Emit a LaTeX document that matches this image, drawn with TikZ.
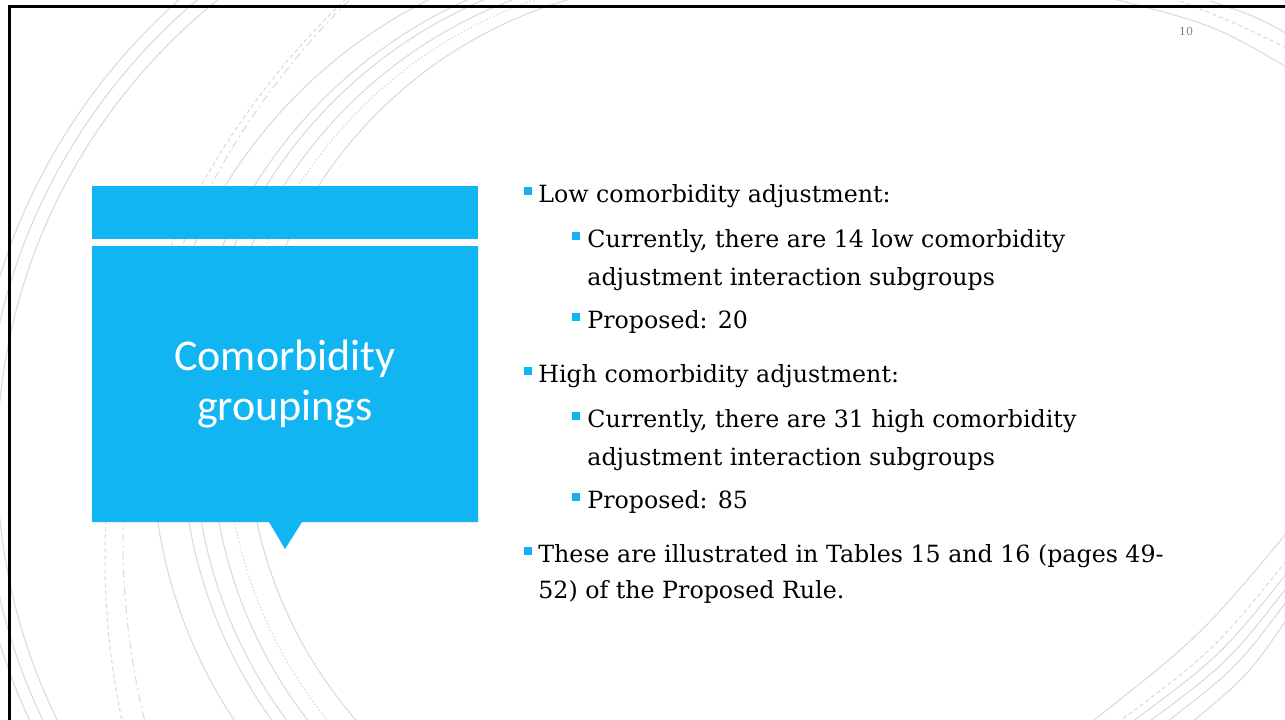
\documentclass[tikz,border=0pt]{standalone}
\usepackage{fontspec}
\setmainfont{DejaVu Serif}
\newfontfamily\titlefont{Carlito}
\definecolor{accent}{RGB}{17,181,241}
\definecolor{ringgray}{RGB}{217,217,217}
\tikzset{
  ring/.style={draw=ringgray, line width=0.5pt},
  dashring/.style={ring, dash pattern=on 2pt off 1.5pt},
  dotring/.style={ring, dash pattern=on 0.8pt off 1pt},
  dashdotring/.style={ring, dash pattern=on 4pt off 2pt on 1pt off 2pt},
  bul/.style={fill=accent, inner sep=0pt, minimum size=3.6pt},
  body/.style={anchor=base west, inner sep=0pt, font=\fontsize{11.85}{14}\selectfont, text=black},
}
\begin{document}
\begin{tikzpicture}[x=0.5pt, y=-0.5pt]
    \useasboundingbox (0,0) rectangle (1285,719);
    \fill[white] (0,0) rectangle (1285,719);

    \begin{scope}
        \clip (0,0) rectangle (1285,719);
        % rings on the left
        \draw[ring](587,1075) arc[start angle=90, end angle=270, radius=615];
        \draw[ring](587,1063) arc[start angle=90, end angle=270, radius=603];
        \draw[ring](587,1050) arc[start angle=90, end angle=270, radius=590];

        \draw[dashring](876,1330) arc[start angle=90, end angle=270, radius=771];
        \draw[dashdotring](880,1297) arc[start angle=90, end angle=270, radius=757];

        \draw[ring](650,944) arc[start angle=90, end angle=270, radius=498];
        \draw[ring](664,922) arc[start angle=90, end angle=270, radius=482];
        \draw[ring](670,914) arc[start angle=90, end angle=270, radius=476];
        \draw[ring](677,902) arc[start angle=90, end angle=270, radius=466];
        \draw[dotring](684,891) arc[start angle=90, end angle=270, radius=458];
        \draw[ring](693,874) arc[start angle=90, end angle=270, radius=446];

        % rings top right
        \draw[ring](1110,-2) .. controls (1215,25) .. (1295,72);
        \draw[dashring](1180,1) .. controls (1240,25) .. (1295,52);
        \draw[ring](1210,1) .. controls (1255,16) .. (1295,38);

        % rings bottom right
        \draw[ring](1085,727) .. controls (1201,636) .. (1295,523);
        \draw[dashring](1112,727) .. controls (1215,650) .. (1295,550);
        \draw[ring](1125,727) .. controls (1221,656) .. (1295,563);
        \draw[ring](1142,727) .. controls (1229,662) .. (1295,577);
        \draw[ring](1160,727) .. controls (1237,668) .. (1295,590);
        \draw[ring](1186,727) .. controls (1249,675) .. (1295,607);

        % frame
        \draw[line width=1.5pt](1295,6) -- (9,6) -- (9,730);
    \end{scope}

    % title box
    \fill[accent](92,186) rectangle (478,239);
    \fill[accent](92,246) -- (478,246) -- (478,522) -- (302,522) -- (285,549) -- (269,522) -- (92,522) -- cycle;
    \node[font=\titlefont\fontsize{22}{25}\selectfont, text=white, align=center] (title) at (285,384) {Comorbidity\\groupings};

    \node[font=\fontsize{5.5}{6}\selectfont, text=gray] (pgnum) at (1186,31) {10};

    % bullets
    \node[bul] (b1) at (528,191) {};
    \node[body] (t1) at (538,202) {Low comorbidity adjustment:};
    \node[bul] (b2) at (576,236) {};
    \node[body] (t2) at (587,247) {Currently, there are 14 low comorbidity};
    \node[body] (t2b) at (587,285) {adjustment interaction subgroups};
    \node[bul] (b3) at (576,317) {};
    \node[body] (t3) at (587,328) {Proposed: 20};

    \node[bul] (b4) at (528,371) {};
    \node[body] (t4) at (538,382) {High comorbidity adjustment:};
    \node[bul] (b5) at (576,416) {};
    \node[body] (t5) at (587,427) {Currently, there are 31 high comorbidity};
    \node[body] (t5b) at (587,465) {adjustment interaction subgroups};
    \node[bul] (b6) at (576,497) {};
    \node[body] (t6) at (587,508) {Proposed: 85};

    \node[bul] (b7) at (528,551) {};
    \node[body] (t7) at (538,562) {These are illustrated in Tables 15 and 16 (pages 49-};
    \node[body] (t7b) at (538,598) {52) of the Proposed Rule.};

\end{tikzpicture}
\end{document}
